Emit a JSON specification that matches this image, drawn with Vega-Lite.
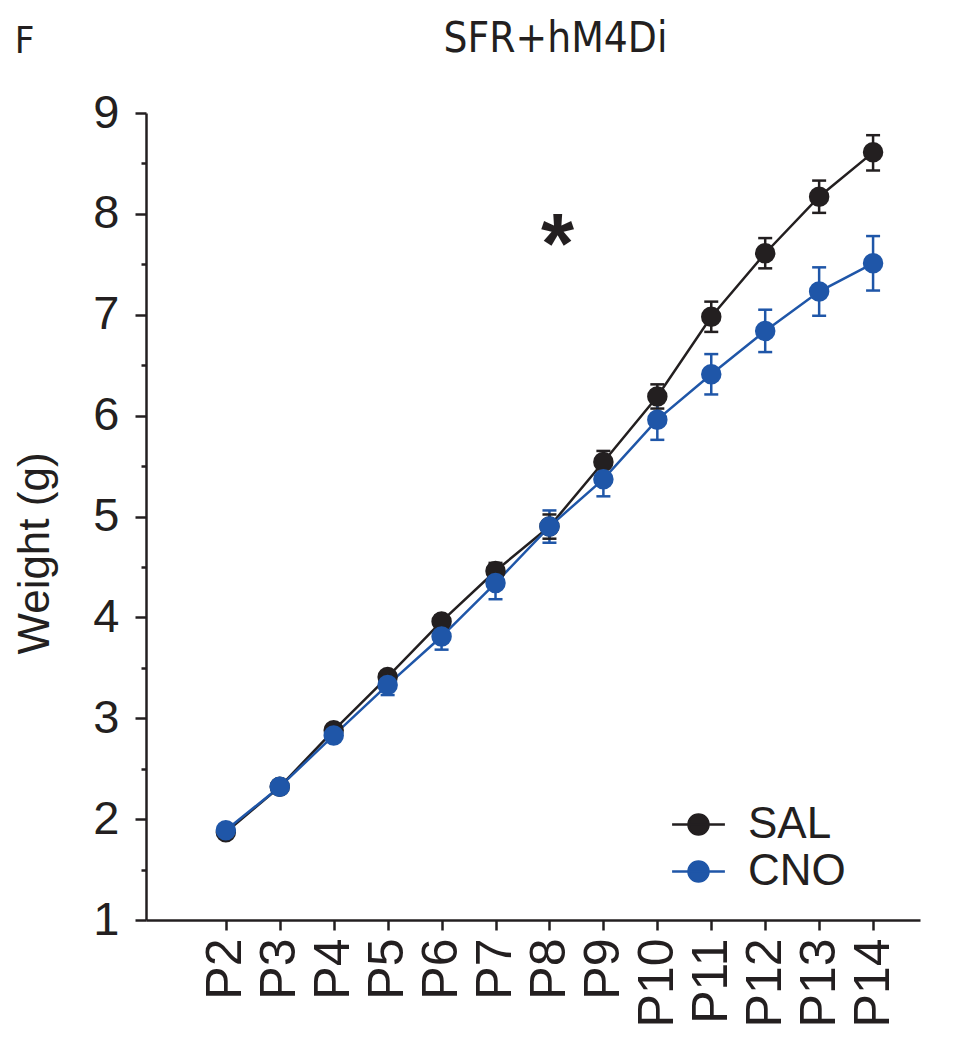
{
  "$schema": "https://vega.github.io/schema/vega-lite/v6.json",
  "width": 774,
  "height": 807,
  "autosize": {"type": "none"},
  "padding": {"left": 146, "top": 113, "right": 38, "bottom": 126},
  "background": "white",
  "config": {
    "view": {"stroke": null},
    "axis": {"domainColor": "#231f20", "domainWidth": 2.5, "tickColor": "#231f20", "tickWidth": 2.5, "labelColor": "#231f20", "labelFont": "Liberation Sans", "titleFont": "Liberation Sans", "titleColor": "#231f20", "grid": false}
  },
  "data": {"values": [
    {"day": 2, "group": "SAL", "w": 1.87, "lo": 1.84, "hi": 1.90},
    {"day": 3, "group": "SAL", "w": 2.32, "lo": 2.29, "hi": 2.35},
    {"day": 4, "group": "SAL", "w": 2.88, "lo": 2.83, "hi": 2.93},
    {"day": 5, "group": "SAL", "w": 3.41, "lo": 3.36, "hi": 3.46},
    {"day": 6, "group": "SAL", "w": 3.96, "lo": 3.90, "hi": 4.02},
    {"day": 7, "group": "SAL", "w": 4.46, "lo": 4.38, "hi": 4.54},
    {"day": 8, "group": "SAL", "w": 4.90, "lo": 4.78, "hi": 5.02},
    {"day": 9, "group": "SAL", "w": 5.54, "lo": 5.43, "hi": 5.65},
    {"day": 10, "group": "SAL", "w": 6.19, "lo": 6.07, "hi": 6.31},
    {"day": 11, "group": "SAL", "w": 6.98, "lo": 6.83, "hi": 7.13},
    {"day": 12, "group": "SAL", "w": 7.61, "lo": 7.46, "hi": 7.76},
    {"day": 13, "group": "SAL", "w": 8.17, "lo": 8.01, "hi": 8.33},
    {"day": 14, "group": "SAL", "w": 8.61, "lo": 8.43, "hi": 8.78},
    {"day": 2, "group": "CNO", "w": 1.89, "lo": 1.86, "hi": 1.92},
    {"day": 3, "group": "CNO", "w": 2.32, "lo": 2.29, "hi": 2.35},
    {"day": 4, "group": "CNO", "w": 2.83, "lo": 2.78, "hi": 2.88},
    {"day": 5, "group": "CNO", "w": 3.33, "lo": 3.23, "hi": 3.43},
    {"day": 6, "group": "CNO", "w": 3.81, "lo": 3.68, "hi": 3.94},
    {"day": 7, "group": "CNO", "w": 4.34, "lo": 4.18, "hi": 4.50},
    {"day": 8, "group": "CNO", "w": 4.90, "lo": 4.74, "hi": 5.06},
    {"day": 9, "group": "CNO", "w": 5.37, "lo": 5.20, "hi": 5.54},
    {"day": 10, "group": "CNO", "w": 5.96, "lo": 5.76, "hi": 6.16},
    {"day": 11, "group": "CNO", "w": 6.41, "lo": 6.21, "hi": 6.61},
    {"day": 12, "group": "CNO", "w": 6.84, "lo": 6.63, "hi": 7.05},
    {"day": 13, "group": "CNO", "w": 7.23, "lo": 6.99, "hi": 7.47},
    {"day": 14, "group": "CNO", "w": 7.51, "lo": 7.24, "hi": 7.78}
  ]},
  "resolve": {"axis": {"x": "independent", "y": "independent"}},
  "layer": [
    {
      "mark": {"type": "rule", "strokeWidth": 2.5},
      "encoding": {
        "x": {"field": "day", "type": "quantitative", "scale": {"domain": [0.52, 14.87], "nice": false, "zero": false}, "axis": {"orient": "top", "domain": false, "ticks": false, "labels": false, "title": "SFR+hM4Di", "titleFont": "Liberation Sans Narrow, DejaVu Sans Condensed, sans-serif", "titleFontSize": 42, "titleFontWeight": "normal", "titleX": 409, "titleY": -62, "titleAlign": "center", "titleBaseline": "alphabetic", "titleAngle": 0}},
        "y": {"field": "lo", "type": "quantitative", "scale": {"domain": [1, 9], "nice": false, "zero": false}, "axis": {"orient": "left", "values": [1, 2, 3, 4, 5, 6, 7, 8, 9], "tickSize": 11, "labelFontSize": 47, "labelPadding": 16, "title": "Weight (g)", "titleFontSize": 44, "titleFontWeight": "normal", "titlePadding": 35, "titleY": 440, "labelFlush": false, "labelOverlap": false}},
        "y2": {"field": "hi"},
        "color": {"field": "group", "type": "nominal", "scale": {"domain": ["SAL", "CNO"], "range": ["#231f20", "#1f56a8"]}, "legend": {
          "title": null, "orient": "none", "legendX": 529, "legendY": 688,
          "symbolType": "M-1.2,0H1.2M-0.455,0A0.455,0.455,0,1,1,0.455,0A0.455,0.455,0,1,1,-0.455,0Z",
          "symbolSize": 1936, "symbolStrokeWidth": 2.5,
          "labelFont": "Liberation Sans", "labelFontSize": 44, "labelColor": "#231f20", "labelOffset": 26, "rowPadding": 1,
          "encode": {"symbols": {"update": {"stroke": {"scale": "color", "field": "value"}, "fill": {"scale": "color", "field": "value"}, "fillOpacity": {"value": 1}, "strokeOpacity": {"value": 1}}}}
        }}
      }
    },
    {
      "mark": {"type": "tick", "orient": "horizontal", "size": 14, "thickness": 2.5, "opacity": 1},
      "encoding": {
        "x": {"field": "day", "type": "quantitative", "axis": null},
        "y": {"field": "lo", "type": "quantitative", "axis": {"orient": "left", "values": [1.5, 2.5, 3.5, 4.5, 5.5, 6.5, 7.5, 8.5], "tickSize": 5, "labels": false, "domain": false, "title": null, "offset": 0}},
        "color": {"field": "group", "type": "nominal", "legend": null}
      }
    },
    {
      "mark": {"type": "tick", "orient": "horizontal", "size": 14, "thickness": 2.5, "opacity": 1},
      "encoding": {
        "x": {"field": "day", "type": "quantitative", "axis": null},
        "y": {"field": "hi", "type": "quantitative", "axis": null},
        "color": {"field": "group", "type": "nominal", "legend": null}
      }
    },
    {
      "mark": {"type": "line", "strokeWidth": 2.5},
      "encoding": {
        "x": {"field": "day", "type": "quantitative", "axis": {"values": [2, 3, 4, 5, 6, 7, 8, 9, 10, 11, 12, 13, 14], "labelExpr": "'P' + datum.value", "labelAngle": 270, "labelAlign": "right", "labelBaseline": "middle", "labelFontSize": 50, "tickSize": 10, "labelPadding": 8, "title": null, "labelFlush": false, "labelOverlap": false}},
        "y": {"field": "w", "type": "quantitative", "axis": null},
        "color": {"field": "group", "type": "nominal", "legend": null}
      }
    },
    {
      "mark": {"type": "point", "filled": true, "shape": "circle", "size": 420, "opacity": 1},
      "encoding": {
        "x": {"field": "day", "type": "quantitative", "axis": null},
        "y": {"field": "w", "type": "quantitative", "axis": null},
        "color": {"field": "group", "type": "nominal", "legend": null}
      }
    },
    {
      "data": {"values": [{"day": 8, "w": 7.41, "t": "*"}]},
      "mark": {"type": "text", "font": "Liberation Sans", "fontWeight": "bold", "fontSize": 85, "baseline": "alphabetic", "align": "center", "dx": 8, "color": "#231f20"},
      "encoding": {
        "x": {"field": "day", "type": "quantitative", "axis": {"orient": "top", "domain": false, "ticks": false, "labels": false, "title": "F", "titleFont": "Liberation Sans Narrow, DejaVu Sans Condensed, sans-serif", "titleFontSize": 38, "titleFontWeight": "normal", "titleX": -122, "titleY": -61, "titleAlign": "center", "titleBaseline": "alphabetic", "titleAngle": 0}},
        "y": {"field": "w", "type": "quantitative", "axis": null},
        "text": {"field": "t"}
      }
    }
  ]
}
